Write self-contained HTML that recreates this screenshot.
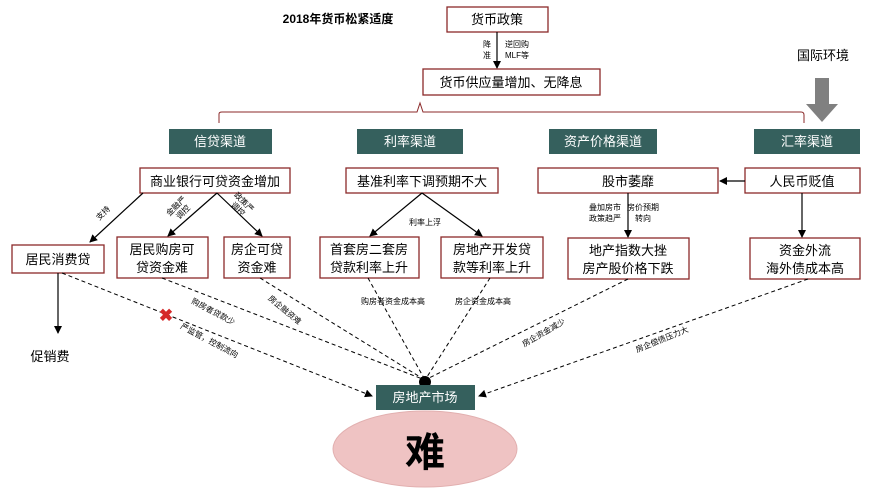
<!DOCTYPE html>
<html><head><meta charset="utf-8"><style>
body{margin:0;background:#fff}
svg{display:block}
text{font-family:"Liberation Sans","Noto Sans CJK SC",sans-serif}
</style></head><body>
<svg width="883" height="490" viewBox="0 0 883 490" xmlns="http://www.w3.org/2000/svg">
<defs>
<marker id="a" markerWidth="8" markerHeight="8" refX="7" refY="4" orient="auto" markerUnits="userSpaceOnUse"><path d="M0,0 L8,4 L0,8 z" fill="#000"/></marker>
</defs>
<g font-size="13" text-anchor="middle" fill="#000">
<text x="338" y="23" font-weight="bold" font-size="12">2018年货币松紧适度</text>
<rect x="447" y="7" width="101" height="25" fill="#fff" stroke="#8b2a2a" stroke-width="1.3"/>
<text x="497" y="24">货币政策</text>
<line x1="497" y1="32" x2="497" y2="68" stroke="#000" stroke-width="1.2" marker-end="url(#a)"/>
<text x="487" y="47" font-size="8">降</text><text x="487" y="58" font-size="8">准</text>
<text x="517" y="47" font-size="8">逆回购</text><text x="517" y="58" font-size="8">MLF等</text>
<rect x="423" y="69" width="177" height="26" fill="#fff" stroke="#8b2a2a" stroke-width="1.3"/>
<text x="511" y="87">货币供应量增加、无降息</text>
<text x="823" y="60">国际环境</text>
<path d="M815,78 H829 V104 H838 L822,122 L806,104 H815 Z" fill="#808080"/>
<path d="M219,123 V114 Q219,112 222,112 H417 L420,103 L423,112 H801 Q804,112 804,115 V123" fill="none" stroke="#8b2a2a" stroke-width="1"/>
<g fill="#35605d">
<rect x="169" y="129" width="103" height="25"/><rect x="357" y="129" width="106" height="25"/>
<rect x="549" y="129" width="108" height="25"/><rect x="754" y="129" width="106" height="25"/>
</g>
<g fill="#fff"><text x="220" y="146">信贷渠道</text><text x="410" y="146">利率渠道</text><text x="603" y="146">资产价格渠道</text><text x="807" y="146">汇率渠道</text></g>
<g fill="#fff" stroke="#8b2a2a" stroke-width="1.3">
<rect x="140" y="168" width="150" height="25"/><rect x="346" y="168" width="152" height="25"/>
<rect x="538" y="168" width="180" height="25"/><rect x="745" y="168" width="115" height="25"/>
<rect x="12" y="245" width="92" height="28"/><rect x="117" y="237" width="91" height="41"/>
<rect x="224" y="237" width="66" height="41"/><rect x="320" y="237" width="99" height="41"/>
<rect x="441" y="237" width="102" height="41"/><rect x="568" y="238" width="121" height="41"/>
<rect x="750" y="238" width="110" height="41"/>
</g>
<text x="215" y="186">商业银行可贷资金增加</text><text x="422" y="186">基准利率下调预期不大</text>
<text x="628" y="186">股市萎靡</text><text x="802" y="186">人民币贬值</text>
<text x="58" y="264">居民消费贷</text>
<text x="162" y="254">居民购房可</text><text x="162" y="272">贷资金难</text>
<text x="257" y="254">房企可贷</text><text x="257" y="272">资金难</text>
<text x="369" y="254">首套房二套房</text><text x="369" y="272">贷款利率上升</text>
<text x="492" y="254">房地产开发贷</text><text x="492" y="272">款等利率上升</text>
<text x="628" y="255">地产指数大挫</text><text x="628" y="273">房产股价格下跌</text>
<text x="805" y="255">资金外流</text><text x="805" y="273">海外债成本高</text>
<text x="50" y="361">促销费</text>
<g stroke="#000" stroke-width="1.2" fill="none" marker-end="url(#a)">
<line x1="143" y1="193" x2="90" y2="242"/>
<line x1="217" y1="193" x2="168" y2="236"/>
<line x1="217" y1="193" x2="262" y2="236"/>
<line x1="422" y1="193" x2="370" y2="236"/>
<line x1="422" y1="193" x2="482" y2="236"/>
<line x1="628" y1="193" x2="628" y2="237"/>
<line x1="802" y1="193" x2="802" y2="237"/>
<line x1="745" y1="181" x2="720" y2="181"/>
<line x1="58" y1="273" x2="58" y2="333"/>
</g>
<g font-size="8">
<text x="105" y="215" transform="rotate(-45 105 215)">支持</text>
<text x="178" y="208" transform="rotate(-45 178 208)">金融严</text><text x="185" y="214" transform="rotate(-45 185 214)">调控</text>
<text x="242" y="204" transform="rotate(45 242 204)">政策严</text><text x="236" y="211" transform="rotate(45 236 211)">调控</text>
<text x="425" y="225">利率上浮</text>
<text x="605" y="210">叠加房市</text><text x="605" y="221">政策趋严</text>
<text x="643" y="210">房价预期</text><text x="643" y="221">转向</text>
<text x="393" y="304">购房者资金成本高</text><text x="483" y="304">房企资金成本高</text>
<text x="212" y="314" transform="rotate(28 212 314)">购房者贷款少</text>
<text x="208" y="343" transform="rotate(28 208 343)">严监管，控制流向</text>
<text x="283" y="312" transform="rotate(40 283 312)">房企融资难</text>
<text x="545" y="335" transform="rotate(-30 545 335)">房企资金减少</text>
<text x="663" y="342" transform="rotate(-22 663 342)">房企偿债压力大</text>
</g>
<g stroke="#000" stroke-width="1" stroke-dasharray="4,3" fill="none">
<line x1="62" y1="273" x2="372" y2="396" marker-end="url(#a)"/>
<line x1="162" y1="278" x2="425" y2="380"/>
<line x1="260" y1="278" x2="425" y2="380"/>
<line x1="368" y1="278" x2="425" y2="380"/>
<line x1="490" y1="278" x2="425" y2="380"/>
<line x1="628" y1="279" x2="425" y2="380"/>
<line x1="808" y1="279" x2="479" y2="396" marker-end="url(#a)"/>
</g>
<text x="166" y="321" fill="#d52a2a" font-size="17" font-weight="bold">✖</text>
<circle cx="425" cy="382" r="6" fill="#000"/>
<ellipse cx="425" cy="449" rx="92" ry="38" fill="#efc3c3" stroke="#e2b0b0"/>
<rect x="376" y="385" width="99" height="25" fill="#35605d"/>
<text x="425" y="402" fill="#fff">房地产市场</text>
<text x="425" y="466" font-size="40" font-weight="bold">难</text>
</g>
</svg>
</body></html>
